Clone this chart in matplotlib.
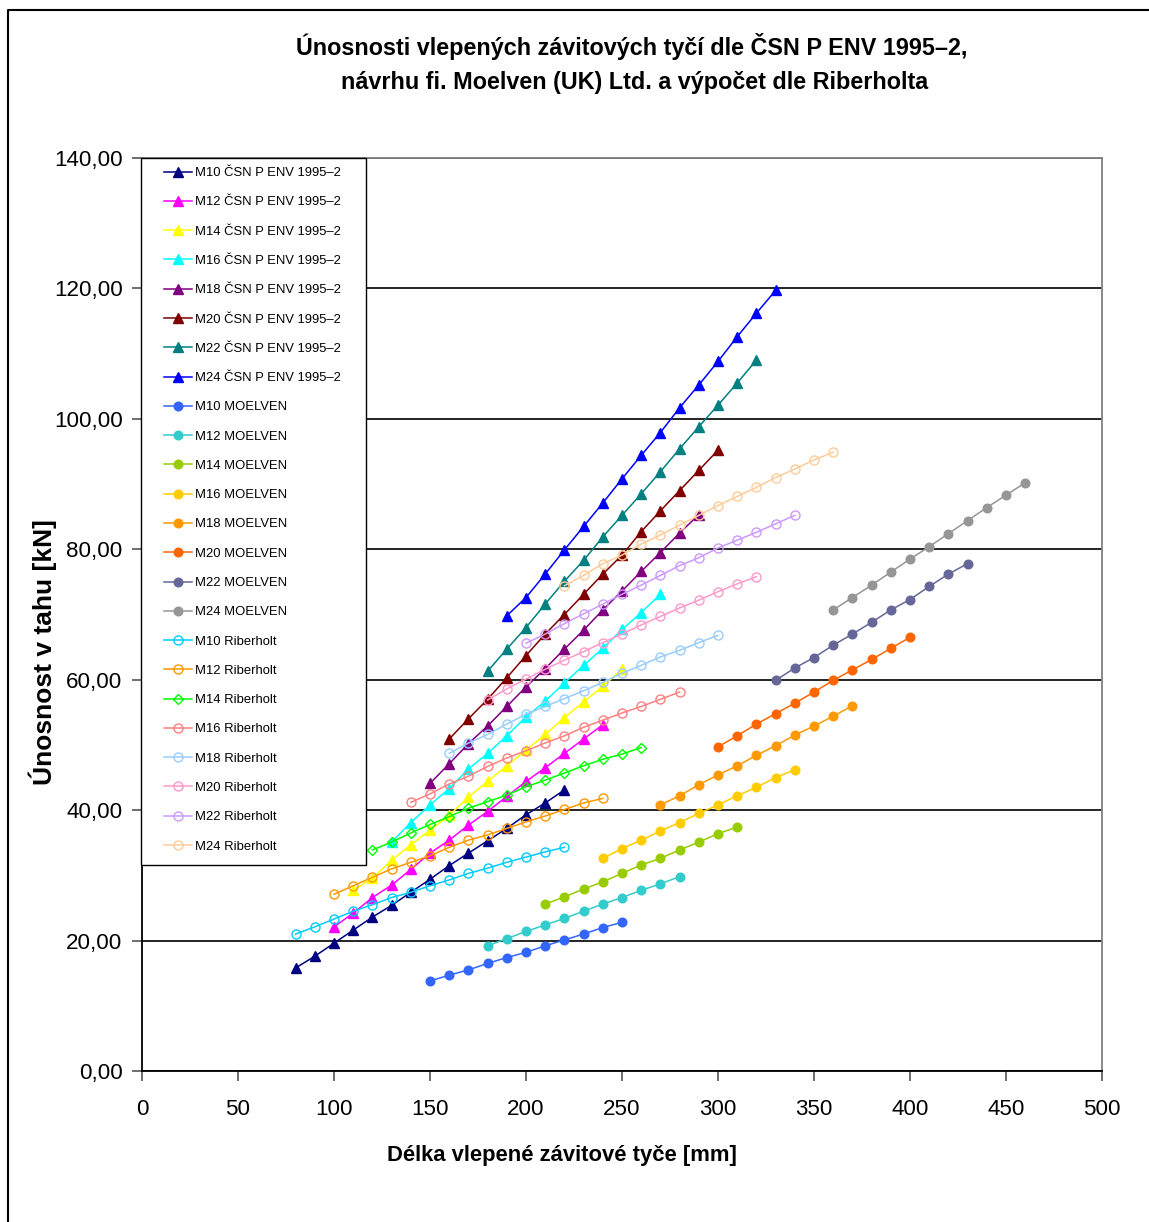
import matplotlib
matplotlib.use("Agg")
import matplotlib.pyplot as plt
from matplotlib import font_manager
from matplotlib.patches import Rectangle
from matplotlib.lines import Line2D

names = {f.name for f in font_manager.fontManager.ttflist}
NARROW_OK = 'Liberation Sans Narrow' in names
NARROW = 'Liberation Sans Narrow' if NARROW_OK else 'Liberation Sans'
WIDE = 'Liberation Sans' if 'Liberation Sans' in names else 'DejaVu Sans'
plt.rcParams['font.family'] = [NARROW, 'DejaVu Sans']
S = 1.0 if NARROW_OK else 0.84   # width compensation when no narrow face exists

# ---------------- data ----------------
title_1 = "Únosnosti vlepených závitových tyčí dle ČSN P ENV 1995–2,"
title_2 = "návrhu fi. Moelven (UK) Ltd. a výpočet dle Riberholta"
xlabel = "Délka vlepené závitové tyče [mm]"
ylabel = "Únosnost v tahu [kN]"
x_ticks = [0, 50, 100, 150, 200, 250, 300, 350, 400, 450, 500]
y_ticks = [0, 20, 40, 60, 80, 100, 120, 140]
y_tick_labels = ["0,00", "20,00", "40,00", "60,00", "80,00", "100,00", "120,00", "140,00"]

# ČSN P ENV 1995-2
csn_m10_x = [80, 90, 100, 110, 120, 130, 140, 150, 160, 170, 180, 190, 200, 210, 220]
csn_m10_y = [15.8, 17.6, 19.6, 21.6, 23.6, 25.4, 27.4, 29.4, 31.5, 33.4, 35.3, 37.2, 39.3, 41.1, 43.1]
csn_m12_x = [100, 110, 120, 130, 140, 150, 160, 170, 180, 190, 200, 210, 220, 230, 240]
csn_m12_y = [22.1, 24.2, 26.6, 28.5, 30.9, 33.4, 35.4, 37.7, 39.8, 42.1, 44.4, 46.5, 48.7, 50.9, 53.1]
csn_m14_x = [110, 120, 130, 140, 150, 160, 170, 180, 190, 200, 210, 220, 230, 240, 250]
csn_m14_y = [27.7, 29.6, 32.3, 34.7, 36.9, 39.2, 42.0, 44.4, 46.8, 49.2, 51.6, 54.2, 56.6, 59.0, 61.6]
csn_m16_x = [130, 140, 150, 160, 170, 180, 190, 200, 210, 220, 230, 240, 250, 260, 270]
csn_m16_y = [35.1, 38.1, 40.8, 43.3, 46.3, 48.7, 51.4, 54.3, 56.7, 59.5, 62.2, 64.8, 67.7, 70.3, 73.1]
csn_m18_x = [150, 160, 170, 180, 190, 200, 210, 220, 230, 240, 250, 260, 270, 280, 290]
csn_m18_y = [44.1, 47.1, 50.2, 52.9, 55.9, 58.9, 61.7, 64.7, 67.6, 70.7, 73.6, 76.6, 79.5, 82.5, 85.3]
csn_m20_x = [160, 170, 180, 190, 200, 210, 220, 230, 240, 250, 260, 270, 280, 290, 300]
csn_m20_y = [50.9, 54.0, 57.0, 60.3, 63.7, 67.0, 70.0, 73.1, 76.2, 79.1, 82.7, 85.9, 89.0, 92.1, 95.2]
csn_m22_x = [180, 190, 200, 210, 220, 230, 240, 250, 260, 270, 280, 290, 300, 310, 320]
csn_m22_y = [61.3, 64.7, 68.0, 71.6, 75.1, 78.3, 81.9, 85.2, 88.5, 91.9, 95.4, 98.8, 102.1, 105.5, 109.0]
csn_m24_x = [190, 200, 210, 220, 230, 240, 250, 260, 270, 280, 290, 300, 310, 320, 330]
csn_m24_y = [69.8, 72.6, 76.2, 79.9, 83.5, 87.1, 90.8, 94.4, 97.9, 101.7, 105.2, 108.8, 112.6, 116.2, 119.7]

# MOELVEN
moe_m10_x = [150, 160, 170, 180, 190, 200, 210, 220, 230, 240, 250]
moe_m10_y = [13.8, 14.7, 15.5, 16.5, 17.4, 18.2, 19.2, 20.1, 21.0, 22.0, 22.8]
moe_m12_x = [180, 190, 200, 210, 220, 230, 240, 250, 260, 270, 280]
moe_m12_y = [19.2, 20.3, 21.4, 22.4, 23.4, 24.5, 25.6, 26.6, 27.7, 28.7, 29.8]
moe_m14_x = [210, 220, 230, 240, 250, 260, 270, 280, 290, 300, 310]
moe_m14_y = [25.6, 26.7, 27.9, 29.0, 30.3, 31.6, 32.6, 33.9, 35.1, 36.4, 37.4]
moe_m16_x = [240, 250, 260, 270, 280, 290, 300, 310, 320, 330, 340]
moe_m16_y = [32.6, 34.1, 35.4, 36.8, 38.1, 39.5, 40.8, 42.2, 43.5, 45.0, 46.2]
moe_m18_x = [270, 280, 290, 300, 310, 320, 330, 340, 350, 360, 370]
moe_m18_y = [40.8, 42.2, 43.9, 45.4, 46.8, 48.4, 49.9, 51.5, 52.9, 54.4, 56.0]
moe_m20_x = [300, 310, 320, 330, 340, 350, 360, 370, 380, 390, 400]
moe_m20_y = [49.7, 51.4, 53.2, 54.8, 56.4, 58.1, 59.9, 61.5, 63.1, 64.8, 66.5]
moe_m22_x = [330, 340, 350, 360, 370, 380, 390, 400, 410, 420, 430]
moe_m22_y = [59.9, 61.8, 63.4, 65.3, 67.0, 68.8, 70.7, 72.3, 74.3, 76.2, 77.8]
moe_m24_x = [360, 370, 380, 390, 400, 410, 420, 430, 440, 450, 460]
moe_m24_y = [70.7, 72.6, 74.5, 76.5, 78.5, 80.4, 82.4, 84.4, 86.4, 88.3, 90.2]

# Riberholt
rib_m10_x = [80, 90, 100, 110, 120, 130, 140, 150, 160, 170, 180, 190, 200, 210, 220]
rib_m10_y = [21.0, 22.1, 23.3, 24.5, 25.5, 26.6, 27.4, 28.4, 29.3, 30.3, 31.1, 32.0, 32.8, 33.6, 34.3]
rib_m12_x = [100, 110, 120, 130, 140, 150, 160, 170, 180, 190, 200, 210, 220, 230, 240]
rib_m12_y = [27.1, 28.4, 29.7, 31.0, 32.0, 33.0, 34.3, 35.4, 36.2, 37.2, 38.2, 39.1, 40.1, 41.1, 41.8]
rib_m14_x = [120, 130, 140, 150, 160, 170, 180, 190, 200, 210, 220, 230, 240, 250, 260]
rib_m14_y = [33.9, 35.1, 36.5, 37.8, 39.0, 40.3, 41.3, 42.3, 43.6, 44.6, 45.7, 46.8, 47.8, 48.6, 49.6]
rib_m16_x = [140, 150, 160, 170, 180, 190, 200, 210, 220, 230, 240, 250, 260, 270, 280]
rib_m16_y = [41.2, 42.5, 44.0, 45.2, 46.7, 48.0, 49.1, 50.3, 51.4, 52.7, 53.8, 54.9, 55.9, 57.0, 58.1]
rib_m18_x = [160, 170, 180, 190, 200, 210, 220, 230, 240, 250, 260, 270, 280, 290, 300]
rib_m18_y = [48.7, 50.3, 51.6, 53.2, 54.7, 55.9, 57.1, 58.3, 59.6, 61.0, 62.2, 63.5, 64.5, 65.7, 66.8]
rib_m20_x = [180, 190, 200, 210, 220, 230, 240, 250, 260, 270, 280, 290, 300, 310, 320]
rib_m20_y = [56.9, 58.6, 60.1, 61.6, 63.0, 64.3, 65.7, 67.0, 68.4, 69.7, 71.0, 72.2, 73.5, 74.7, 75.8]
rib_m22_x = [200, 210, 220, 230, 240, 250, 260, 270, 280, 290, 300, 310, 320, 330, 340]
rib_m22_y = [65.6, 67.0, 68.6, 70.1, 71.6, 73.1, 74.5, 76.0, 77.5, 78.7, 80.2, 81.4, 82.6, 83.9, 85.2]
rib_m24_x = [220, 230, 240, 250, 260, 270, 280, 290, 300, 310, 320, 330, 340, 350, 360]
rib_m24_y = [74.4, 76.0, 77.8, 79.1, 80.8, 82.2, 83.7, 85.2, 86.7, 88.1, 89.5, 91.0, 92.3, 93.7, 94.9]

series = [
    ("M10 ČSN P ENV 1995–2", csn_m10_x, csn_m10_y, "#000080", "^", True),
    ("M12 ČSN P ENV 1995–2", csn_m12_x, csn_m12_y, "#FF00FF", "^", True),
    ("M14 ČSN P ENV 1995–2", csn_m14_x, csn_m14_y, "#FFFF00", "^", True),
    ("M16 ČSN P ENV 1995–2", csn_m16_x, csn_m16_y, "#00FFFF", "^", True),
    ("M18 ČSN P ENV 1995–2", csn_m18_x, csn_m18_y, "#800080", "^", True),
    ("M20 ČSN P ENV 1995–2", csn_m20_x, csn_m20_y, "#800000", "^", True),
    ("M22 ČSN P ENV 1995–2", csn_m22_x, csn_m22_y, "#008080", "^", True),
    ("M24 ČSN P ENV 1995–2", csn_m24_x, csn_m24_y, "#0000FF", "^", True),
    ("M10 MOELVEN", moe_m10_x, moe_m10_y, "#3366FF", "o", True),
    ("M12 MOELVEN", moe_m12_x, moe_m12_y, "#33CCCC", "o", True),
    ("M14 MOELVEN", moe_m14_x, moe_m14_y, "#99CC00", "o", True),
    ("M16 MOELVEN", moe_m16_x, moe_m16_y, "#FFCC00", "o", True),
    ("M18 MOELVEN", moe_m18_x, moe_m18_y, "#FF9900", "o", True),
    ("M20 MOELVEN", moe_m20_x, moe_m20_y, "#FF6600", "o", True),
    ("M22 MOELVEN", moe_m22_x, moe_m22_y, "#666699", "o", True),
    ("M24 MOELVEN", moe_m24_x, moe_m24_y, "#969696", "o", True),
    ("M10 Riberholt", rib_m10_x, rib_m10_y, "#00CCFF", "o", False),
    ("M12 Riberholt", rib_m12_x, rib_m12_y, "#FF9900", "o", False),
    ("M14 Riberholt", rib_m14_x, rib_m14_y, "#00FF00", "D", False),
    ("M16 Riberholt", rib_m16_x, rib_m16_y, "#FF8080", "o", False),
    ("M18 Riberholt", rib_m18_x, rib_m18_y, "#99CCFF", "o", False),
    ("M20 Riberholt", rib_m20_x, rib_m20_y, "#FF99CC", "o", False),
    ("M22 Riberholt", rib_m22_x, rib_m22_y, "#CC99FF", "o", False),
    ("M24 Riberholt", rib_m24_x, rib_m24_y, "#FFCC99", "o", False),
]

# ---------------- figure ----------------
W, H = 1149, 1222
fig = plt.figure(figsize=(W / 100, H / 100), dpi=100)

def fx(px):
    return px / W

def fy(py):
    return 1 - py / H

ax = fig.add_axes([fx(142), fy(1071), fx(1102) - fx(142), fy(158) - fy(1071)])
ax.set_xlim(0, 500)
ax.set_ylim(0, 140)

for lab, xs, ys, col, mk, filled in series:
    if mk == "^":
        ms = 7.5
    elif mk == "D":
        ms = 5.5
    elif filled:
        ms = 6.2
    else:
        ms = 6.5
    ax.plot(xs, ys, color=col, lw=1.1, marker=mk, markersize=ms,
            markerfacecolor=col if filled else "none", markeredgecolor=col,
            markeredgewidth=1.0, label=lab, zorder=3)

FAM = [NARROW, "DejaVu Sans"]
ax.set_yticks(y_ticks)
ax.set_yticklabels(y_tick_labels)
ax.set_xticks(x_ticks)
ax.set_xticklabels([str(v) for v in x_ticks])
ax.tick_params(axis="both", direction="out", length=7, width=1.2, color="#555555",
               labelsize=18 * S + (1 if S < 1 else 0))
ax.tick_params(axis="x", pad=13)
ax.tick_params(axis="y", pad=7)
for t in ax.get_xticklabels() + ax.get_yticklabels():
    t.set_fontfamily(FAM)

ax.grid(axis="y", color="#000000", lw=1.2, zorder=1)
ax.set_axisbelow(True)
for side in ("left", "bottom"):
    ax.spines[side].set_color("#000000")
    ax.spines[side].set_linewidth(1.3)
for side in ("top", "right"):
    ax.spines[side].set_color("#808080")
    ax.spines[side].set_linewidth(1.3)

# legend frame (white box) and legend
ax.add_patch(Rectangle((fx(141), fy(865)), fx(366) - fx(141), fy(158) - fy(865),
                       transform=fig.transFigure, facecolor="white", edgecolor="#000000",
                       lw=1.0, zorder=4, clip_on=False))
leg = ax.legend(loc="upper left", bbox_to_anchor=(fx(164), fy(167)),
                bbox_transform=fig.transFigure, frameon=False, borderpad=0,
                borderaxespad=0, handlelength=2.15, handletextpad=0.22,
                labelspacing=1.32, prop={"family": FAM, "size": 11 * S + 0.8 * (1 - S)})
leg.set_zorder(5)

# titles
fig.text(fx(632), fy(46), title_1, ha="center", va="center", fontsize=20 * S,
         fontweight="bold", family=FAM)
fig.text(fx(635), fy(82), title_2, ha="center", va="center", fontsize=20 * S,
         fontweight="bold", family=FAM)
fig.text(fx(562), fy(1155), xlabel, ha="center", va="center",
         fontsize=18 * S + (0.7 if S < 1 else 0), fontweight="bold", family=FAM)
fig.text(fx(43), fy(652), ylabel, ha="center", va="center", rotation=90, fontsize=19,
         fontweight="bold", family=[WIDE, "DejaVu Sans"])

# outer frame (left and top visible)
fig.add_artist(Line2D([fx(8), fx(8), 1.0], [0.0, fy(10), fy(10)],
                      transform=fig.transFigure, color="#000000", lw=1.5))

fig.savefig("out.png", dpi=100)
